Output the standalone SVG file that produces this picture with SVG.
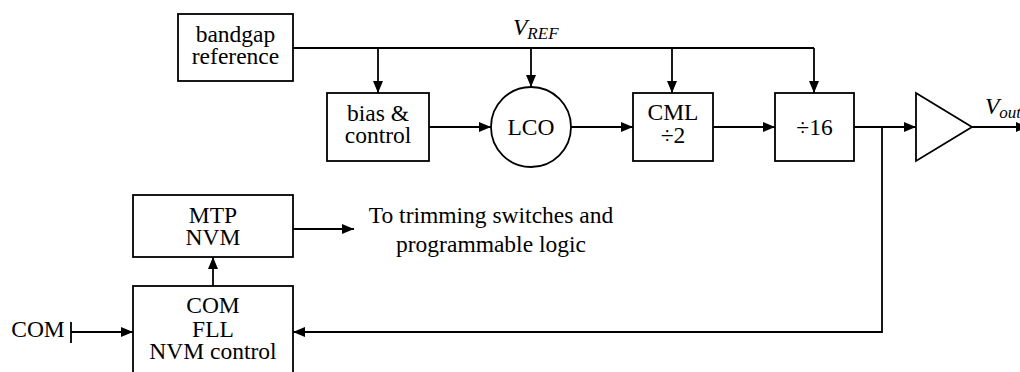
<svg xmlns="http://www.w3.org/2000/svg" width="1020" height="372" viewBox="0 0 1020 372">
<style>
.b{fill:#fff;stroke:#000;stroke-width:1.8}
.w{fill:none;stroke:#000;stroke-width:1.8}
.t{font-family:"Liberation Serif","Times New Roman",serif;font-size:23.5px;fill:#000;text-anchor:middle}
.i{font-style:italic}
</style>
<defs>
<marker id="a" markerUnits="userSpaceOnUse" markerWidth="13" markerHeight="11" refX="12" refY="5" orient="auto">
<path d="M0,0 L12,5 L0,10 z" fill="#000"/>
</marker>
</defs>
<rect width="1020" height="372" fill="#fff"/>
<g id="connectors">
<path class="w" d="M293,48 H814"/>
<path class="w" d="M378,48 V93" marker-end="url(#a)"/>
<path class="w" d="M531,48 V87" marker-end="url(#a)"/>
<path class="w" d="M672,48 V93" marker-end="url(#a)"/>
<path class="w" d="M814,48 V93" marker-end="url(#a)"/>
<path class="w" d="M429,127 H491" marker-end="url(#a)"/>
<path class="w" d="M571,127 H633" marker-end="url(#a)"/>
<path class="w" d="M713,127 H775" marker-end="url(#a)"/>
<path class="w" d="M854,127 H916" marker-end="url(#a)"/>
<path class="w" d="M972,127 H1028" marker-end="url(#a)"/>
<path class="w" d="M882,127 V332 H293" marker-end="url(#a)"/>
<path class="w" d="M213,286 V257" marker-end="url(#a)"/>
<path class="w" d="M293,229 H354" marker-end="url(#a)"/>
<path class="w" d="M71,322 V343 M71,332 H133" marker-end="url(#a)"/>
<text class="t i" x="513" y="35" style="text-anchor:start">V<tspan font-size="17" dy="4">REF</tspan></text>
<text class="t i" x="985" y="114" style="text-anchor:start">V<tspan font-size="17" dy="4">out</tspan></text>
<text class="t" x="491" y="223">To trimming switches and</text>
<text class="t" x="491" y="252">programmable logic</text>
<text class="t" x="38" y="337">COM</text>
</g>
<g id="bandgap">
<rect class="b" x="178" y="14" width="115" height="67"/>
<text class="t" x="235.5" y="42">bandgap</text>
<text class="t" x="235.5" y="64">reference</text>
</g>
<g id="bias">
<rect class="b" x="327" y="93" width="102" height="68"/>
<text class="t" x="378" y="121">bias &amp;</text>
<text class="t" x="378" y="143">control</text>
</g>
<g id="lco">
<circle class="b" cx="531" cy="127" r="40"/>
<text class="t" x="531" y="135">LCO</text>
</g>
<g id="cml">
<rect class="b" x="633" y="93" width="80" height="68"/>
<text class="t" x="673" y="120">CML</text>
<text class="t" x="673" y="143">÷2</text>
</g>
<g id="div16">
<rect class="b" x="775" y="93" width="79" height="68"/>
<text class="t" x="814.5" y="135">÷16</text>
</g>
<g id="buffer">
<path class="b" d="M916,93 L972,127 L916,161 z"/>
</g>
<g id="mtp">
<rect class="b" x="133" y="195" width="160" height="62"/>
<text class="t" x="213" y="223">MTP</text>
<text class="t" x="213" y="245">NVM</text>
</g>
<g id="fll">
<rect class="b" x="133" y="286" width="160" height="100"/>
<text class="t" x="213" y="313">COM</text>
<text class="t" x="213" y="337">FLL</text>
<text class="t" x="213" y="359">NVM control</text>
</g>
</svg>
